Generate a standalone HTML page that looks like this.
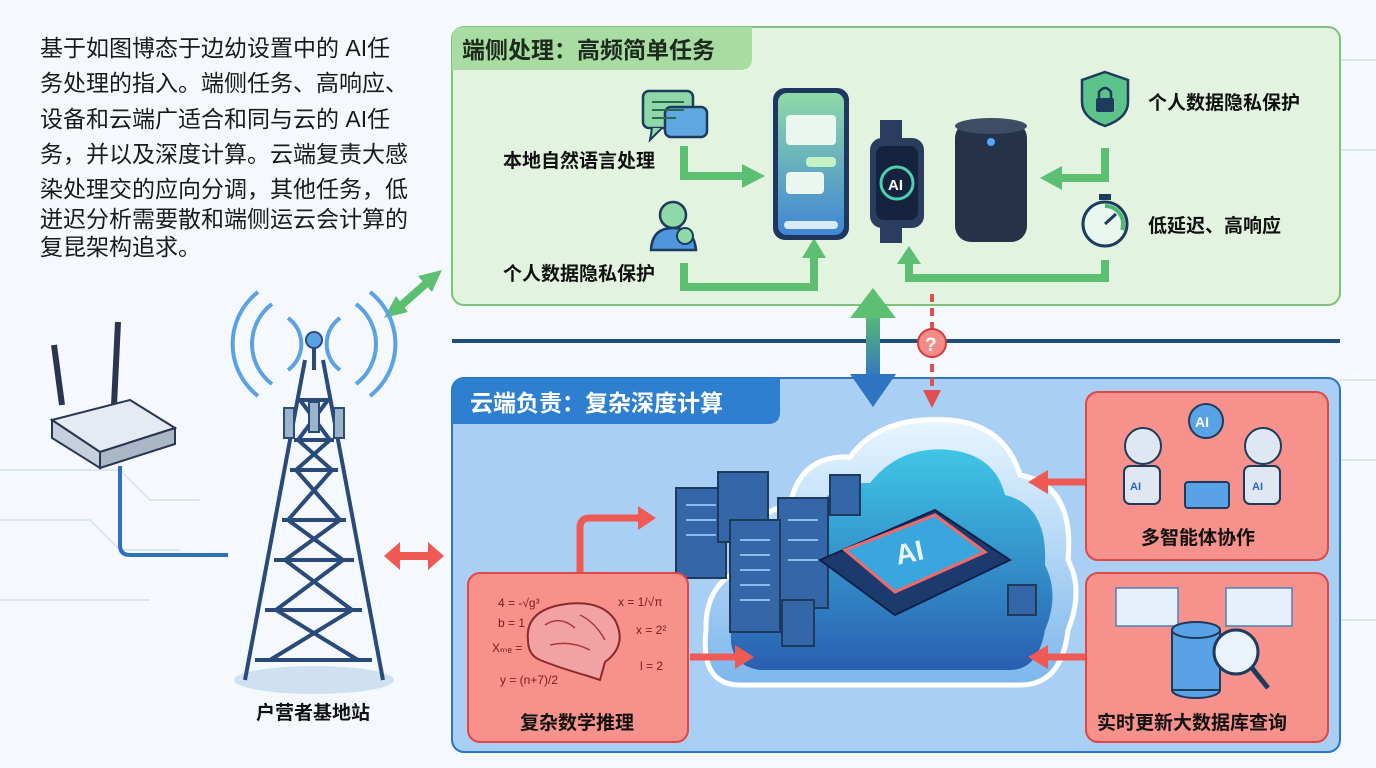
<!DOCTYPE html>
<html><head><meta charset="utf-8"><style>
html,body{margin:0;padding:0;width:1376px;height:768px;overflow:hidden;background:#f4f8fc}
svg text{font-family:"Liberation Sans","Noto Sans CJK SC",sans-serif}
</style></head><body>
<svg width="1376" height="768" viewBox="0 0 1376 768" xmlns="http://www.w3.org/2000/svg">
<defs>
<linearGradient id="ph" x1="0" y1="0" x2="0" y2="1"><stop offset="0" stop-color="#8fd9a8"/><stop offset="1" stop-color="#3f86d4"/></linearGradient>
<linearGradient id="cl" x1="0" y1="0" x2="0" y2="1"><stop offset="0" stop-color="#e8f6ff"/><stop offset="1" stop-color="#7cb6ec"/></linearGradient>
<linearGradient id="cin" x1="0" y1="0" x2="0" y2="1"><stop offset="0" stop-color="#3fc6e6"/><stop offset="1" stop-color="#2a5fb0"/></linearGradient>
<linearGradient id="va" x1="0" y1="0" x2="0" y2="1"><stop offset="0" stop-color="#5cbf72"/><stop offset="1" stop-color="#2f74c0"/></linearGradient>
</defs>
<rect width="1376" height="768" fill="#f5f9fd"/>
<g stroke="#dbe6f0" stroke-width="2" fill="none">
<path d="M0 470 H120 L150 500 H200"/><path d="M0 520 H90 L120 550 H180"/><path d="M0 600 H150"/><path d="M1340 60 H1376"/><path d="M1340 150 H1376"/><path d="M1340 380 H1376"/><path d="M1340 460 H1376"/><path d="M1340 620 H1376"/>
</g>
<g font-size="23" fill="#1a1a1a">
<text x="40" y="56">基于如图博态于边幼设置中的 AI任</text>
<text x="40" y="91">务处理的指入。端侧任务、高响应、</text>
<text x="40" y="127">设备和云端广适合和同与云的 AI任</text>
<text x="40" y="162">务，并以及深度计算。云端复责大感</text>
<text x="40" y="197">染处理交的应向分调，其他任务，低</text>
<text x="40" y="227">迸迟分析需要散和端侧运云会计算的</text>
<text x="40" y="255">复昆架构追求。</text>
</g>
<rect x="452" y="27" width="888" height="278" rx="12" fill="#e2f3df" stroke="#7cc47a" stroke-width="2"/>
<path d="M452 39 Q452 27 464 27 H752 V58 Q752 70 740 70 H452 Z" fill="#a9dca3"/>
<text x="462" y="58" font-size="23" font-weight="bold" fill="#1c2b1c">端侧处理：高频简单任务</text>
<rect x="643" y="91" width="50" height="37" rx="6" fill="#8fd9a8" stroke="#1d3b5c" stroke-width="2.5"/>
<rect x="665" y="107" width="42" height="30" rx="6" fill="#5fa7e0" stroke="#1d3b5c" stroke-width="2.5"/>
<path d="M652 128 L650 140 L662 128" fill="#8fd9a8" stroke="#1d3b5c" stroke-width="2"/>
<g stroke="#2a6a50" stroke-width="2"><line x1="652" y1="102" x2="684" y2="102"/><line x1="652" y1="110" x2="684" y2="110"/><line x1="652" y1="118" x2="676" y2="118"/></g>
<text x="503" y="167" font-size="19" font-weight="bold" fill="#111">本地自然语言处理</text>
<path d="M684 146 V176 H744" fill="none" stroke="#5cbf72" stroke-width="8"/>
<path d="M742 164 L765 176 L742 188 Z" fill="#5cbf72"/>
<circle cx="673" cy="215" r="13" fill="#8fd9a8" stroke="#1d3b5c" stroke-width="2.5"/>
<path d="M651 250 Q652 228 673 228 Q694 228 696 250 Z" fill="#4f97dc" stroke="#1d3b5c" stroke-width="2.5"/>
<circle cx="685" cy="236" r="8" fill="#8fd9a8" stroke="#1d3b5c" stroke-width="2"/>
<text x="503" y="280" font-size="19" font-weight="bold" fill="#111">个人数据隐私保护</text>
<path d="M684 263 V287 H814 V256" fill="none" stroke="#5cbf72" stroke-width="8"/>
<path d="M802 258 L814 238 L826 258 Z" fill="#5cbf72"/>
<rect x="773" y="88" width="76" height="152" rx="12" fill="#1f3660"/>
<rect x="778" y="93" width="66" height="142" rx="9" fill="url(#ph)"/>
<rect x="786" y="115" width="50" height="30" rx="4" fill="#eaf6f0"/><rect x="806" y="157" width="30" height="10" rx="4" fill="#c6f0c6"/><rect x="786" y="172" width="38" height="22" rx="4" fill="#eaf6f0"/><rect x="784" y="221" width="54" height="8" rx="4" fill="#d8ecf8"/>
<rect x="880" y="120" width="22" height="20" fill="#2a3d5e"/><rect x="880" y="225" width="22" height="18" fill="#2a3d5e"/>
<rect x="870" y="138" width="54" height="90" rx="12" fill="#2a3d5e"/><rect x="876" y="146" width="42" height="74" rx="8" fill="#15233e"/>
<circle cx="897" cy="183" r="16" fill="none" stroke="#4cd0b0" stroke-width="3"/><text x="888" y="190" font-size="15" font-weight="bold" fill="#fff">AI</text>
<rect x="955" y="122" width="72" height="120" rx="16" fill="#253248"/><ellipse cx="991" cy="126" rx="36" ry="8" fill="#3d4d66"/>
<circle cx="991" cy="142" r="4" fill="#52a8ff"/>
<path d="M1105 72 L1128 80 V102 Q1128 118 1105 126 Q1082 118 1082 102 V80 Z" fill="#5cc38b" stroke="#1d3b5c" stroke-width="2.5"/>
<rect x="1096" y="98" width="18" height="14" rx="2" fill="#1d3b5c"/><path d="M1099 98 V92 Q1105 84 1111 92 V98" fill="none" stroke="#1d3b5c" stroke-width="2.5"/>
<text x="1148" y="109" font-size="19" font-weight="bold" fill="#111">个人数据隐私保护</text>
<path d="M1105 148 V178 H1060" fill="none" stroke="#5cbf72" stroke-width="8"/>
<path d="M1062 166 L1040 178 L1062 190 Z" fill="#5cbf72"/>
<circle cx="1105" cy="224" r="22" fill="#e9f6ee" stroke="#1d3b5c" stroke-width="3"/><rect x="1099" y="194" width="12" height="6" fill="#1d3b5c"/>
<path d="M1105 224 L1116 214" stroke="#1d3b5c" stroke-width="3"/><path d="M1105 206 A18 18 0 0 1 1122 230" fill="none" stroke="#4bb870" stroke-width="4"/>
<text x="1148" y="232" font-size="19" font-weight="bold" fill="#111">低延迟、高响应</text>
<path d="M1105 260 V278 H909 V262" fill="none" stroke="#5cbf72" stroke-width="8"/>
<path d="M897 264 L909 246 L921 264 Z" fill="#5cbf72"/>
<line x1="452" y1="341" x2="1340" y2="341" stroke="#1f4e79" stroke-width="4"/>
<rect x="452" y="378" width="888" height="374" rx="12" fill="#a9cff4" stroke="#2f74c0" stroke-width="2"/>
<path d="M452 390 Q452 378 464 378 H780 V412 Q780 424 768 424 H452 Z" fill="#2f7fd0"/>
<text x="470" y="411" font-size="23" font-weight="bold" fill="#fff">云端负责：复杂深度计算</text>
<rect x="866" y="310" width="14" height="70" fill="url(#va)"/>
<path d="M850 318 L873 288 L896 318 Z" fill="#5cbf72"/><path d="M850 374 L873 407 L896 374 Z" fill="#2f74c0"/>
<line x1="932" y1="294" x2="932" y2="392" stroke="#e05050" stroke-width="4" stroke-dasharray="8 6"/>
<path d="M923 390 L932 408 L941 390 Z" fill="#e05050"/>
<circle cx="932" cy="343" r="14" fill="#f38c86" stroke="#d43c3c" stroke-width="2"/><text x="925" y="351" font-size="19" font-weight="bold" fill="#fff">?</text>
<path d="M740 685 Q700 685 706 630 Q705 585 740 570 Q738 515 790 505 Q800 455 850 457 Q880 415 950 420 Q1005 425 1020 475 Q1075 485 1068 560 Q1084 590 1068 630 Q1062 685 1020 685 Z" fill="url(#cl)" stroke="#ffffff" stroke-width="5"/>
<path d="M760 670 Q725 665 732 625 Q732 595 760 585 Q762 530 810 525 Q825 480 870 483 Q900 445 950 450 Q995 455 1005 495 Q1048 505 1045 565 Q1060 595 1045 630 Q1038 670 1010 670 Z" fill="url(#cin)"/>
<g fill="#3567a8" stroke="#1d3b5c" stroke-width="2">
<rect x="676" y="488" width="50" height="90"/><rect x="718" y="472" width="50" height="70"/><rect x="778" y="498" width="50" height="110"/><rect x="730" y="520" width="50" height="112"/><rect x="782" y="600" width="32" height="46"/><rect x="830" y="475" width="30" height="40"/><rect x="1008" y="585" width="28" height="30"/>
</g>
<g stroke="#8bbbe8" stroke-width="2"><line x1="740" y1="540" x2="770" y2="540"/><line x1="740" y1="555" x2="770" y2="555"/><line x1="740" y1="570" x2="770" y2="570"/><line x1="740" y1="585" x2="770" y2="585"/><line x1="740" y1="600" x2="770" y2="600"/><line x1="686" y1="505" x2="716" y2="505"/><line x1="686" y1="520" x2="716" y2="520"/><line x1="686" y1="535" x2="716" y2="535"/><line x1="788" y1="520" x2="818" y2="520"/><line x1="788" y1="540" x2="818" y2="540"/><line x1="788" y1="560" x2="818" y2="560"/></g>
<path d="M820 560 L935 510 L1010 560 L895 615 Z" fill="#1d3a6e" stroke="#0e2248" stroke-width="2"/>
<path d="M845 550 L935 515 L985 552 L895 592 Z" fill="#3aa6de" stroke="#f06a6a" stroke-width="3"/>
<text x="896" y="562" font-size="28" font-weight="bold" fill="#e8f4ff" transform="rotate(-12 910 555)">AI</text>
<path d="M580 575 V528 Q580 518 590 518 H640" fill="none" stroke="#ef5a55" stroke-width="7"/><path d="M638 506 L656 518 L638 530 Z" fill="#ef5a55"/>
<path d="M690 657 H738" stroke="#ef5a55" stroke-width="7"/><path d="M735 645 L754 657 L735 669 Z" fill="#ef5a55"/>
<path d="M1086 482 H1045" stroke="#ef5a55" stroke-width="7"/><path d="M1048 470 L1028 482 L1048 494 Z" fill="#ef5a55"/>
<path d="M1086 657 H1045" stroke="#ef5a55" stroke-width="7"/><path d="M1048 645 L1028 657 L1048 669 Z" fill="#ef5a55"/>
<rect x="468" y="573" width="220" height="169" rx="12" fill="#f7918b" stroke="#e04848" stroke-width="2"/>
<g font-size="12" fill="#7a1c1c"><text x="498" y="607">4 = -√g³</text><text x="498" y="627">b = 1</text><text x="492" y="652">Xₘₑ =</text><text x="500" y="684">y = (n+7)/2</text><text x="618" y="606">x = 1/√π</text><text x="636" y="634">x = 2²</text><text x="640" y="670">l = 2</text></g>
<path d="M528 640 Q525 612 560 605 Q600 598 615 620 Q628 645 605 662 L600 680 L588 676 Q560 668 540 660 Q528 655 528 640 Z" fill="#f2a2a2" stroke="#8a2a2a" stroke-width="2"/>
<path d="M545 625 Q560 615 575 628 M580 615 Q595 622 605 640 M550 645 Q570 640 590 650" fill="none" stroke="#a83a3a" stroke-width="1.5"/>
<text x="520" y="729" font-size="19" font-weight="bold" fill="#111">复杂数学推理</text>
<rect x="1086" y="392" width="242" height="168" rx="12" fill="#f7918b" stroke="#e04848" stroke-width="2"/>
<circle cx="1206" cy="421" r="17" fill="#5aa2e6" stroke="#1d3b5c" stroke-width="2"/><text x="1195" y="427" font-size="14" font-weight="bold" fill="#fff">AI</text>
<circle cx="1143" cy="446" r="18" fill="#dfe8f2" stroke="#1d3b5c" stroke-width="2"/><rect x="1124" y="466" width="36" height="38" rx="6" fill="#dfe8f2" stroke="#1d3b5c" stroke-width="2"/><text x="1130" y="490" font-size="11" font-weight="bold" fill="#2a6ab0">AI</text>
<circle cx="1263" cy="446" r="18" fill="#dfe8f2" stroke="#1d3b5c" stroke-width="2"/><rect x="1244" y="466" width="36" height="38" rx="6" fill="#dfe8f2" stroke="#1d3b5c" stroke-width="2"/><text x="1252" y="490" font-size="11" font-weight="bold" fill="#2a6ab0">AI</text>
<rect x="1185" y="482" width="44" height="26" rx="3" fill="#5aa2e6" stroke="#1d3b5c" stroke-width="2"/>
<text x="1141" y="544" font-size="19" font-weight="bold" fill="#111">多智能体协作</text>
<rect x="1086" y="573" width="242" height="169" rx="12" fill="#f7918b" stroke="#e04848" stroke-width="2"/>
<g fill="#e6f0fb" stroke="#4a80c0" stroke-width="1.5"><rect x="1116" y="588" width="62" height="38"/><rect x="1226" y="588" width="66" height="38"/></g>
<g fill="#5aa2e6" stroke="#1d3b5c" stroke-width="2"><ellipse cx="1196" cy="690" rx="24" ry="8"/><rect x="1172" y="630" width="48" height="60"/><ellipse cx="1196" cy="630" rx="24" ry="8"/></g>
<circle cx="1236" cy="652" r="22" fill="#eaf3fb" stroke="#1d3b5c" stroke-width="3"/><path d="M1252 668 L1268 688" stroke="#1d3b5c" stroke-width="5"/>
<text x="1097" y="729" font-size="19" font-weight="bold" fill="#111">实时更新大数据库查询</text>
<path d="M396 310 L430 280" stroke="#5cbf72" stroke-width="8"/><path d="M384 318 L396 296 L408 312 Z" fill="#5cbf72"/><path d="M442 270 L418 276 L432 292 Z" fill="#5cbf72"/>
<path d="M396 556 H432" stroke="#ef5a55" stroke-width="8"/><path d="M400 542 L384 556 L400 570 Z" fill="#ef5a55"/><path d="M428 542 L444 556 L428 570 Z" fill="#ef5a55"/>
<path d="M120 466 V545 Q120 555 130 555 H228" fill="none" stroke="#2f6fc0" stroke-width="4"/>
<line x1="62" y1="405" x2="54" y2="345" stroke="#2a3550" stroke-width="6"/><line x1="114" y1="405" x2="118" y2="322" stroke="#2a3550" stroke-width="6"/>
<path d="M52 420 L130 400 L175 428 L100 452 Z" fill="#e4ebf2" stroke="#2a3550" stroke-width="2"/>
<path d="M52 420 L100 452 V468 L52 438 Z" fill="#c5d0dc" stroke="#2a3550" stroke-width="2"/><path d="M100 452 L175 428 V444 L100 468 Z" fill="#aab7c6" stroke="#2a3550" stroke-width="2"/>
<g fill="none" stroke="#5aa2e6" stroke-width="4"><path d="M288 318 A32 32 0 0 1 288 370"/><path d="M340 318 A32 32 0 0 0 340 370"/><path d="M272 304 A50 50 0 0 0 272 384"/><path d="M356 304 A50 50 0 0 1 356 384"/><path d="M258 292 A66 66 0 0 0 258 396"/><path d="M370 292 A66 66 0 0 1 370 396"/></g>
<ellipse cx="314" cy="680" rx="80" ry="14" fill="#cfe0f0"/>
<g stroke="#2a4a7a" stroke-width="4" fill="none"><path d="M305 360 L245 680 M323 360 L383 680"/>
<path d="M300 400 L330 440 L296 470 L340 520 L285 560 L352 610 L270 660 M328 400 L298 440 L332 470 L288 520 L343 560 L276 610 L358 660"/>
<path d="M298 400 H330 M294 440 H334 M290 470 H338 M282 520 H346 M274 560 H354 M265 610 H362 M255 660 H372"/></g>
<line x1="314" y1="342" x2="314" y2="370" stroke="#2a4a7a" stroke-width="4"/><circle cx="314" cy="340" r="8" fill="#5aa2e6" stroke="#2a4a7a" stroke-width="2"/>
<g fill="#9bb4cc" stroke="#2a4a7a" stroke-width="2"><rect x="284" y="408" width="10" height="30"/><rect x="334" y="408" width="10" height="30"/><rect x="309" y="402" width="10" height="30"/></g>
<text x="256" y="719" font-size="19" font-weight="bold" fill="#111">户营者基地站</text>
</svg>
</body></html>
